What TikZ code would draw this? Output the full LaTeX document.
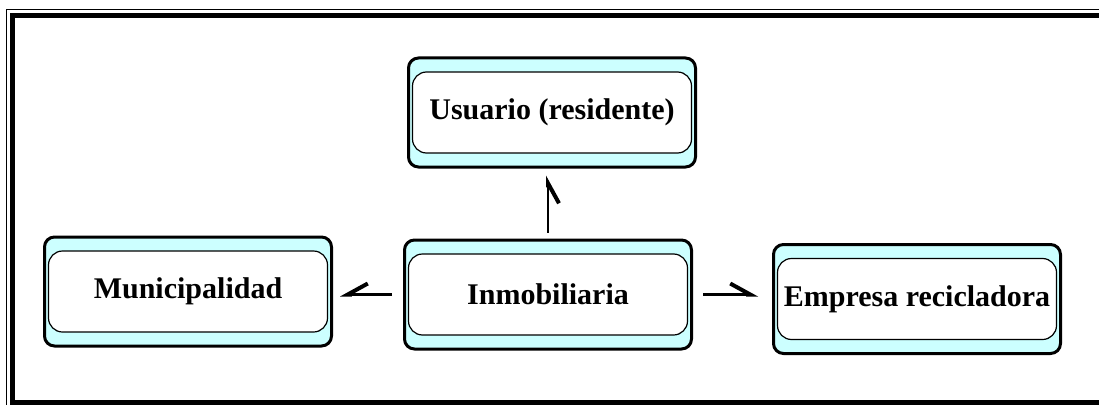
\documentclass[tikz,border=0pt]{standalone}
\usepackage{fontspec}
\setmainfont{Liberation Serif}
\usetikzlibrary{positioning, arrows.meta}
\definecolor{celeste}{RGB}{204,255,255}

\begin{document}
\begin{tikzpicture}[x=1pt,y=-1pt,
		marco/.style={draw,line width=3pt,fill=celeste,rounded corners=10pt,minimum width=287pt,minimum height=109pt},
		caja/.style={draw,line width=1.2pt,fill=white,rounded corners=14pt,minimum width=279pt,minimum height=81pt,
			font=\fontsize{30}{36}\selectfont\bfseries,inner sep=0pt},
		flecha/.style={line width=2.5pt,-{Straight Barb[harpoon,length=20pt,width=22pt,line width=0pt 1.6]}},
		flechainv/.style={line width=2.5pt,-{Straight Barb[harpoon,swap,length=20pt,width=22pt,line width=0pt 1.6]}}]
			\useasboundingbox (0,0) rectangle (1099,404);
			\clip (0,0) rectangle (1099,404);
			\draw[line width=1.5pt] (6.5,9.5) rectangle (1130,440);
			\draw[line width=5pt] (12.5,15.5) rectangle (1120,402);
			\node[marco] (inmoM) at (548,294.5) {};
			\node[marco] (usuM) [above=70pt of inmoM, xshift=4pt] {};
			\node[marco] (muniM) [left=70pt of inmoM, yshift=3pt] {};
			\node[marco] (emprM) [right=79pt of inmoM, yshift=-4.5pt] {};
			\node[caja] (inmo) at (inmoM) {Inmobiliaria};
			\node[caja] (usu) at (usuM) {Usuario (residente)};
			\node[caja] (muni) at (muniM) {Municipalidad};
			\node[caja] (empr) at (emprM) {Empresa recicladora};
			\draw[flechainv,shorten <=6pt,shorten >=7pt] (inmoM.north) -- (inmoM.north |- usuM.south);
			\draw[flechainv,shorten <=11pt,shorten >=7pt] (inmoM.west) -- (inmoM.west -| muniM.east);
			\draw[flecha,shorten <=10pt,shorten >=14pt] (inmoM.east) -- (inmoM.east -| emprM.west);
	\end{tikzpicture}
\end{document}
